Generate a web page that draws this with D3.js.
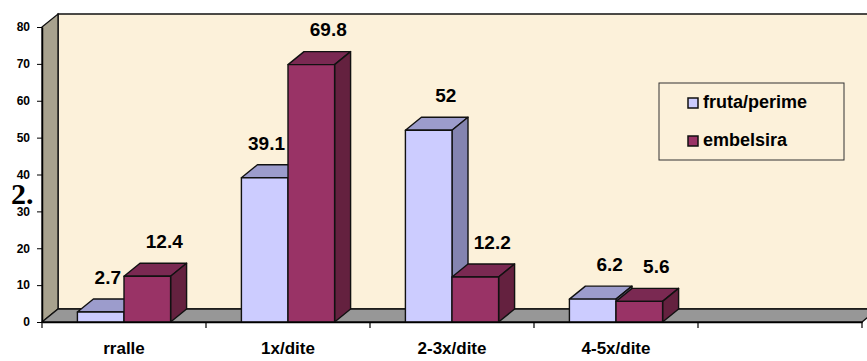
<!DOCTYPE html>
<html>
<head>
<meta charset="utf-8">
<script src="https://cdn.jsdelivr.net/npm/d3@7"></script>
<style>
  body { margin: 0; background: #fff; }
  text { font-family: "Liberation Sans", Arial, sans-serif; font-weight: bold; fill: #000; }
</style>
</head>
<body>
<svg id="chart"></svg>
<script>
// chart data
const categories = ['rralle', '1x/dite', '2-3x/dite', '4-5x/dite', ''];
const seriesNames = ['fruta/perime', 'embelsira'];
const fruta = [2.7, 39.1, 52, 6.2, null];
const embelsira = [12.4, 69.8, 12.2, 5.6, null];
const yTicks = [0, 10, 20, 30, 40, 50, 60, 70, 80];

// colours per series: front, top, side
const faceColors = [
    { front: '#CCCCFF', top: '#9C9CCC', side: '#8484B0' },
    { front: '#993366', top: '#7A2952', side: '#64213F' },
];

const W = 867, H = 361;
const plot = { left: 42, right: 862, top: 27, bottom: 322 };
// 3d depth offset
const dx = 16, dy = -13;

const svg = d3.select('#chart')
    .attr('width', W)
    .attr('height', H);

const x0 = d3.scaleBand()
    .domain(categories)
    .range([plot.left, plot.right])
    .padding(0);

const x1 = d3.scaleBand()
    .domain(seriesNames)
    .range([0, x0.bandwidth()])
    .paddingInner(0)
    .paddingOuter(0.76);

const y = d3.scaleLinear()
    .domain([0, 80])
    .range([plot.bottom, plot.top]);

const pts = p => p.map(d => d.join(',')).join(' ');

// back wall
svg.append('polygon')
    .attr('points', pts([
        [plot.left + dx, plot.top + dy], [plot.right + dx, plot.top + dy],
        [plot.right + dx, plot.bottom + dy], [plot.left + dx, plot.bottom + dy]
    ]))
    .attr('fill', '#FCF1DA')
    .attr('stroke', '#111')
    .attr('stroke-width', 1.5);

// left side wall
svg.append('polygon')
    .attr('points', pts([
        [plot.left, y(80)], [plot.left + dx, y(80) + dy],
        [plot.left + dx, y(0) + dy], [plot.left, y(0)]
    ]))
    .attr('fill', '#A8A28E')
    .attr('stroke', '#111')
    .attr('stroke-width', 1.3);

// floor
svg.append('polygon')
    .attr('points', pts([
        [plot.left, y(0)], [plot.left + dx, y(0) + dy],
        [plot.right + dx, y(0) + dy], [plot.right, y(0)]
    ]))
    .attr('fill', '#979797')
    .attr('stroke', '#111')
    .attr('stroke-width', 1.3);

// bars
const bars = [];
categories.forEach((cat, i) => {
    [fruta, embelsira].forEach((vals, s) => {
        const v = vals[i];
        if (v == null) return;
        bars.push({ cat, s, v, x: x0(cat) + x1(seriesNames[s]), w: x1.bandwidth() });
    });
});

const g = svg.append('g');
bars.forEach(b => {
    const c = faceColors[b.s];
    const yt = y(b.v), yb = y(0);
    const bar = g.append('g');
    bar.append('polygon')
        .attr('points', pts([[b.x, yt], [b.x + dx, yt + dy], [b.x + b.w + dx, yt + dy], [b.x + b.w, yt]]))
        .attr('fill', c.top);
    bar.append('polygon')
        .attr('points', pts([[b.x + b.w, yt], [b.x + b.w + dx, yt + dy], [b.x + b.w + dx, yb + dy], [b.x + b.w, yb]]))
        .attr('fill', c.side);
    bar.append('rect')
        .attr('x', b.x).attr('y', yt)
        .attr('width', b.w).attr('height', yb - yt)
        .attr('fill', c.front);
    bar.selectAll('*')
        .attr('stroke', '#111')
        .attr('stroke-width', 1.4)
        .attr('stroke-linejoin', 'round');
});

// axes
const yAxis = d3.axisLeft(y).tickValues(yTicks).tickSize(5).tickSizeOuter(0);
const ya = svg.append('g')
    .attr('transform', `translate(${plot.left},0)`)
    .call(yAxis);
ya.select('.domain').attr('stroke', '#000').attr('stroke-width', 1.5);
ya.selectAll('.tick line').attr('stroke', '#000');
ya.selectAll('.tick text')
    .attr('x', -12)
    .style('font-size', '12px')
    .style('font-family', '"Liberation Sans", Arial, sans-serif')
    .style('font-weight', 'bold');

const xAxis = d3.axisBottom(x0).tickSize(0).tickSizeOuter(0);
const xa = svg.append('g')
    .attr('transform', `translate(0,${plot.bottom})`)
    .call(xAxis);
xa.select('.domain').attr('stroke', '#000').attr('stroke-width', 1.5);
xa.selectAll('.tick text')
    .attr('y', 32)
    .attr('dy', '0')
    .style('font-size', '17px')
    .style('font-family', '"Liberation Sans", Arial, sans-serif')
    .style('font-weight', 'bold');
// tick marks between categories
xa.selectAll('.sep')
    .data(categories.map(c => x0(c)).concat([plot.right]))
    .join('line')
    .attr('x1', d => d).attr('x2', d => d)
    .attr('y1', 0).attr('y2', 6)
    .attr('stroke', '#000')
    .attr('stroke-width', 1.2);

// value labels
const labelSize = 19;
const lbl = svg.append('g');
bars.forEach((b, k) => {
    const t = lbl.append('text')
        .attr('text-anchor', 'middle')
        .style('font-size', labelSize + 'px')
        .text(String(b.v));
    let cx = b.x + b.w / 2 + dx + 1;
    const cy = y(b.v) + dy - 22;
    const half = t.node().getComputedTextLength() / 2;
    // move label left if the next bar in the group stands in the way
    const nb = bars[k + 1];
    if (nb && nb.cat === b.cat && y(nb.v) + dy < cy + 8 && cx + half > nb.x - 3) {
        cx = nb.x - 3 - half;
    }
    t.attr('x', cx).attr('y', cy + labelSize * 0.36);
});

// legend
const legend = svg.append('g').attr('transform', 'translate(659,83)');
legend.append('rect')
    .attr('width', 185).attr('height', 77)
    .attr('fill', 'none')
    .attr('stroke', '#333')
    .attr('stroke-width', 1);
seriesNames.forEach((name, i) => {
    const row = legend.append('g').attr('transform', `translate(29,${15 + i * 38})`);
    row.append('rect')
        .attr('width', 10).attr('height', 10)
        .attr('fill', faceColors[i].front)
        .attr('stroke', '#111')
        .attr('stroke-width', 1.5);
    row.append('text')
        .attr('x', 15).attr('y', 10)
        .style('font-size', '18px')
        .text(name);
});

// stray heading number from the source page
svg.append('text')
    .attr('x', 11).attr('y', 204)
    .style('font-family', '"Liberation Serif", "Times New Roman", serif')
    .style('font-size', '30px')
    .text('2.');
</script>
</body>
</html>
